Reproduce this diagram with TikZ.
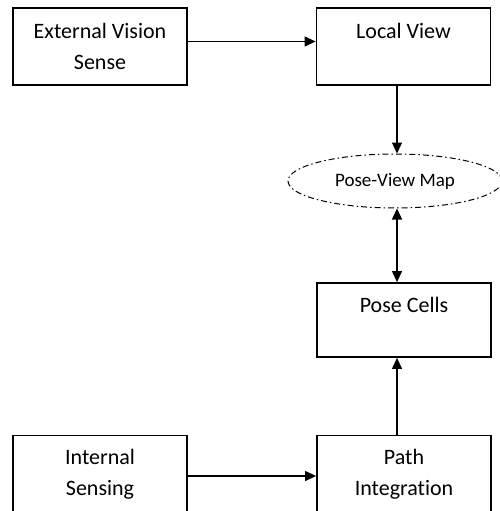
\documentclass[tikz,border=0pt]{standalone}
\usepackage{fontspec}
\setmainfont[Ligatures={NoCommon}]{Carlito}
\usetikzlibrary{arrows.meta,shapes.geometric}
\begin{document}
\begin{tikzpicture}[x=1pt,y=1pt,
  box/.style={draw, line width=1.8pt, minimum width=174pt, align=center, font=\fontsize{22}{31}\selectfont, inner sep=0pt},
  conn/.style={line width=1.2pt, -{Triangle[length=11pt,width=10pt]}},
  conn2/.style={line width=1.2pt, {Triangle[length=11pt,width=10pt]}-{Triangle[length=11pt,width=10pt]}}]
\useasboundingbox (0,0) rectangle (499,-511);
\node[box, minimum height=77pt] (ext) at (100,-46.5) {External Vision\\Sense};
\node[box, minimum height=77pt] (lv) at (403.5,-46.5) {Local View\\\phantom{X}};
\node[draw, ellipse, line width=1pt, dash pattern=on 6pt off 3pt on 1.5pt off 3pt,
      minimum width=214pt, minimum height=54pt, inner sep=0pt, font=\fontsize{19}{22}\selectfont] (pvm) at (395,-181) {Pose-View Map};
\node[box, minimum height=74pt] (pc) at (404,-320) {Pose Cells\\\phantom{X}};
\node[box, minimum height=77pt] (pi) at (404,-474) {Path\\Integration};
\node[box, minimum height=77pt] (is) at (100,-474) {Internal\\Sensing};
\coordinate (xl) at (397,0);
\draw[conn] ([yshift=5pt]ext.east) -- ([yshift=5pt]lv.west);
\draw[conn] (xl |- lv.south) -- (xl |- pvm.north);
\draw[conn2] (xl |- pvm.south) -- (xl |- pc.north);
\draw[conn] (xl |- pi.north) -- (xl |- pc.south);
\draw[conn] ([yshift=-2pt]is.east) -- ([yshift=-2pt]pi.west);
\end{tikzpicture}
\end{document}
